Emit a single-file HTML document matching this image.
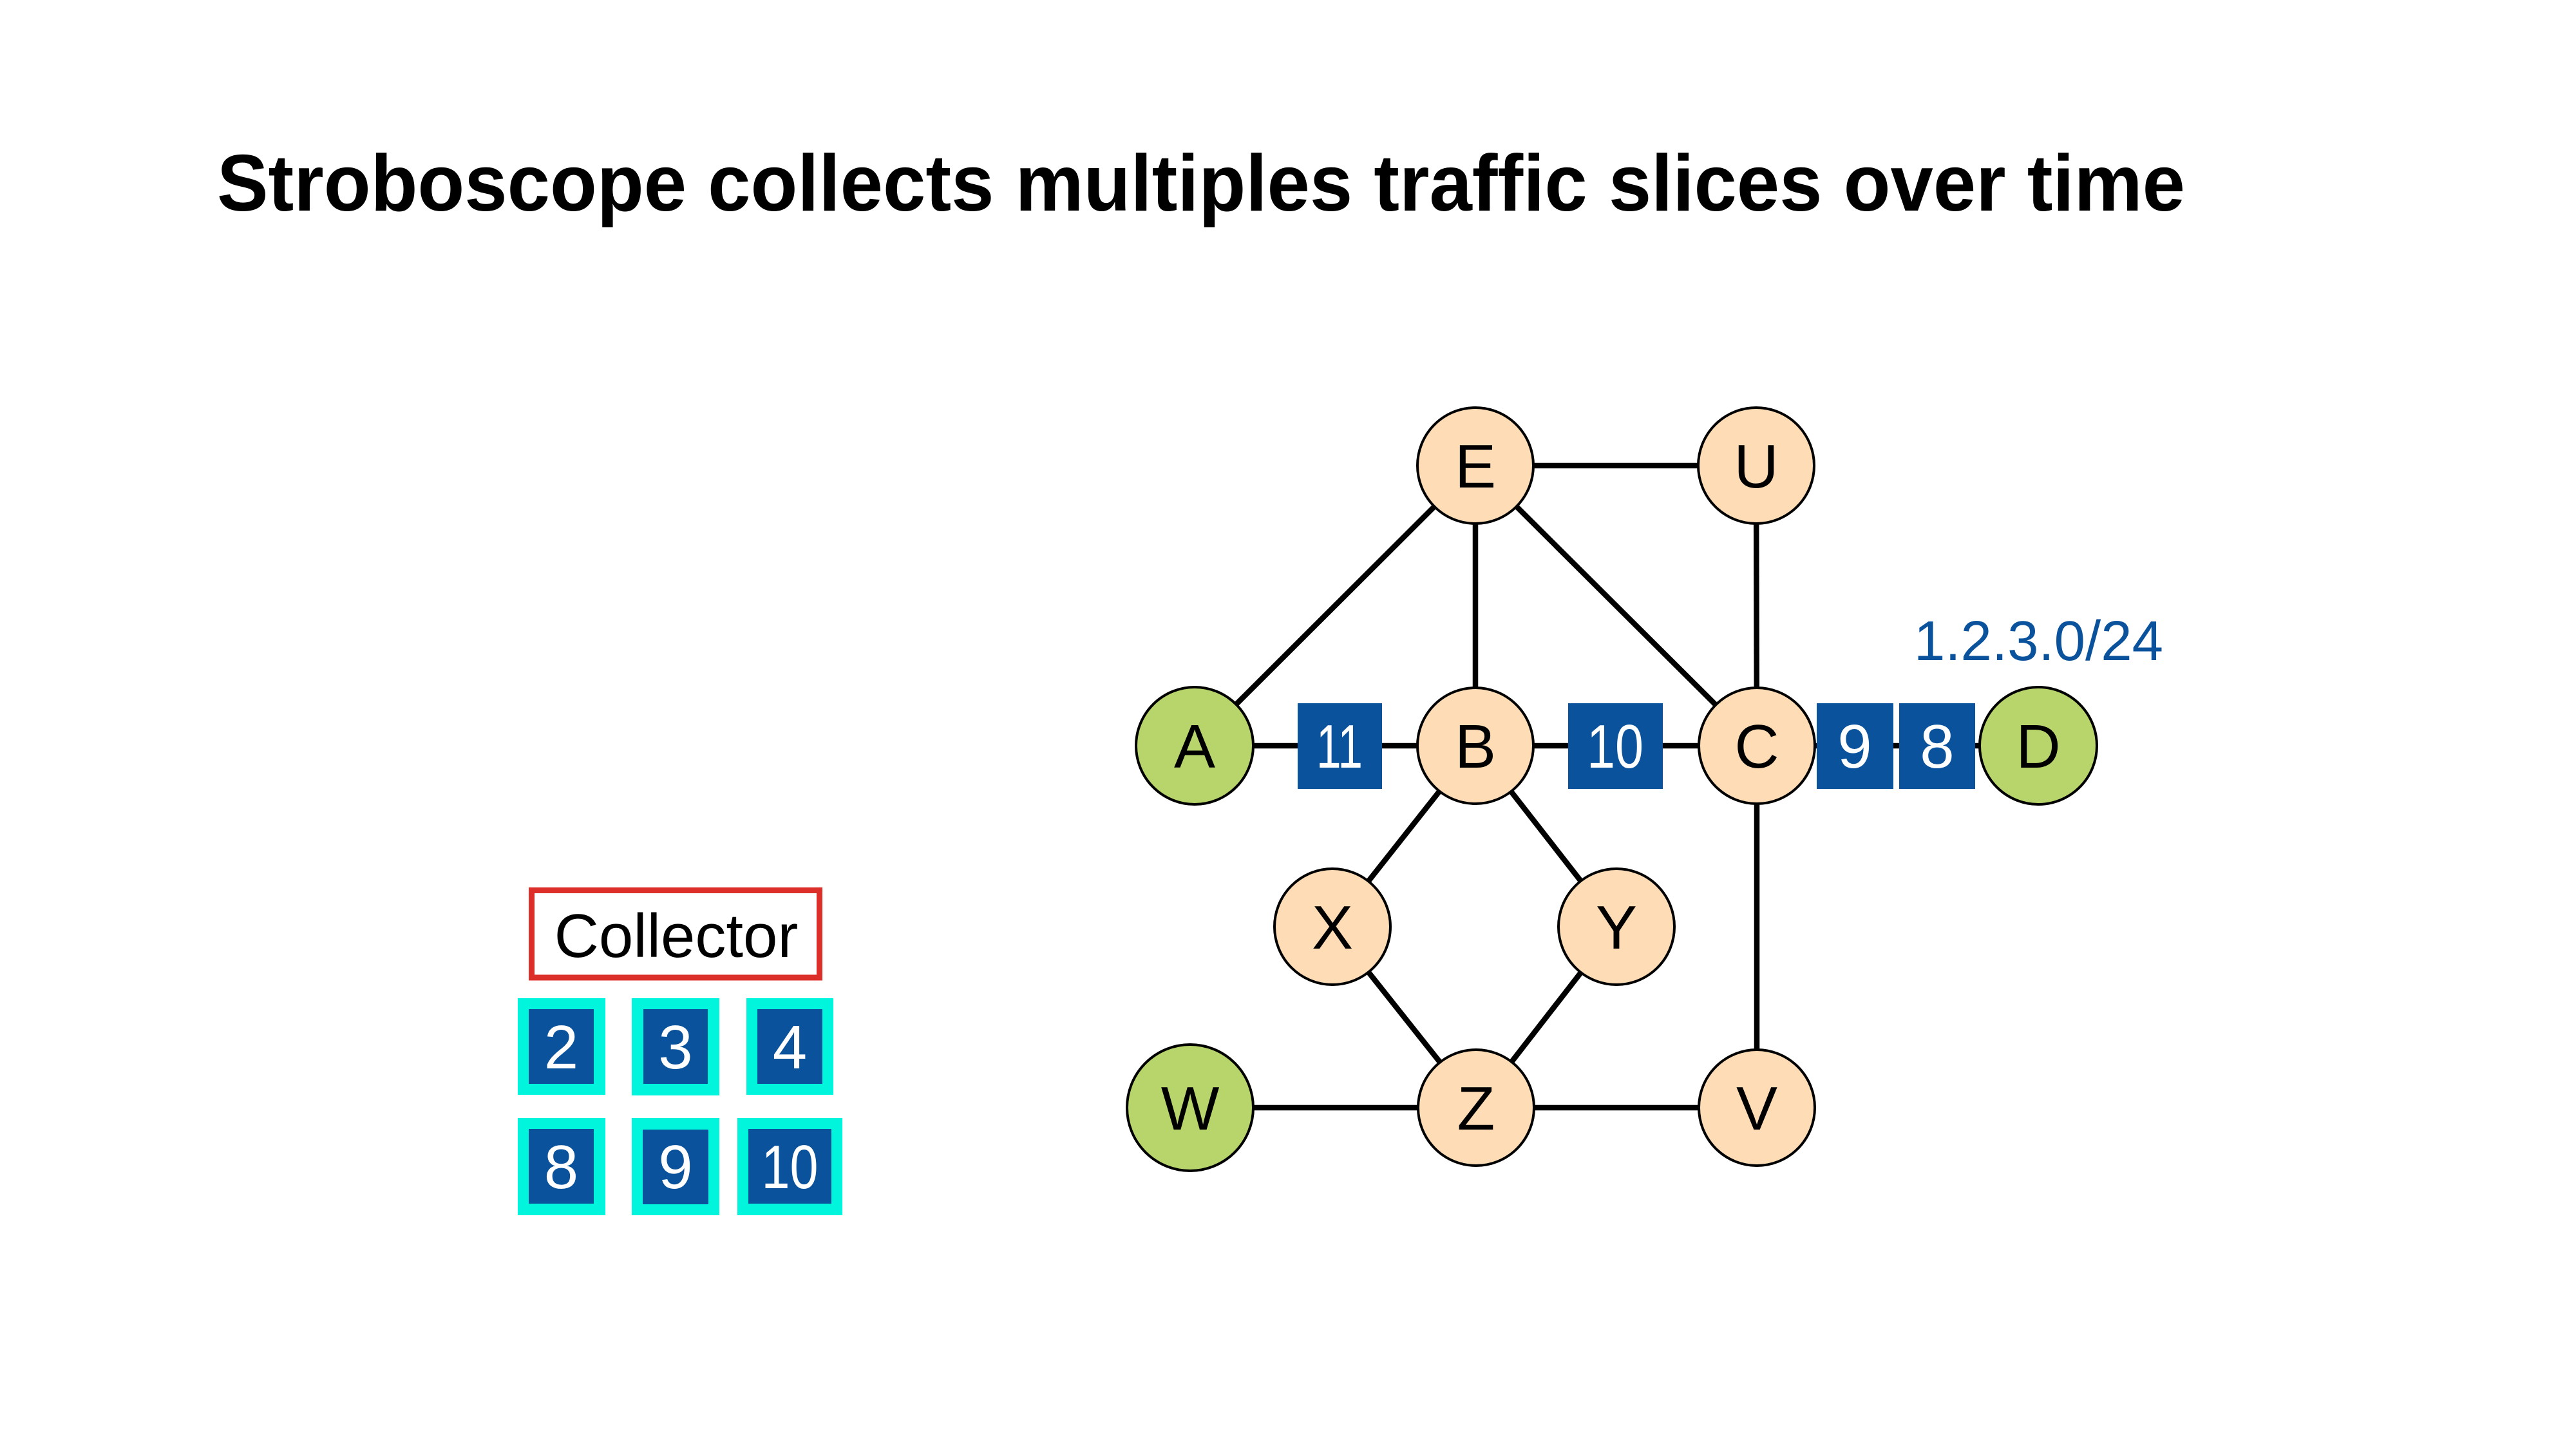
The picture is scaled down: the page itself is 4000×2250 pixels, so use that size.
<!DOCTYPE html>
<html>
<head>
<meta charset="utf-8">
<style>
  html, body { margin: 0; padding: 0; background: #ffffff; }
  svg { display: block; }
  text { font-family: "Liberation Sans", Arial, sans-serif; }
</style>
</head>
<body>
<svg xmlns="http://www.w3.org/2000/svg" width="4000" height="2250" viewBox="0 0 4000 2250">
  <rect x="0" y="0" width="4000" height="2250" fill="#ffffff"/>

  <!-- Title -->
  <text x="337" y="327" font-size="124" font-weight="bold" fill="#000000" textLength="3056" lengthAdjust="spacingAndGlyphs">Stroboscope collects multiples traffic slices over time</text>

  <!-- Edges -->
  <g stroke="#000000" stroke-width="8.5" stroke-linecap="butt">
    <line x1="2291" y1="723" x2="2727" y2="723"/>
    <line x1="2291" y1="723" x2="1855" y2="1158"/>
    <line x1="2291" y1="723" x2="2291" y2="1158"/>
    <line x1="2291" y1="723" x2="2728" y2="1158"/>
    <line x1="2727" y1="723" x2="2728" y2="1158"/>
    <line x1="1855" y1="1158" x2="3165" y2="1158"/>
    <line x1="2291" y1="1158" x2="2069" y2="1439"/>
    <line x1="2291" y1="1158" x2="2510" y2="1439"/>
    <line x1="2069" y1="1439" x2="2292" y2="1720"/>
    <line x1="2510" y1="1439" x2="2292" y2="1720"/>
    <line x1="1848" y1="1720" x2="2728" y2="1720"/>
    <line x1="2728" y1="1158" x2="2728" y2="1720"/>
  </g>

  <!-- Packet boxes on path -->
  <g fill="#0a529b">
    <rect x="2015" y="1092" width="131" height="133"/>
    <rect x="2435" y="1092" width="147" height="133"/>
    <rect x="2821" y="1092" width="119" height="133"/>
    <rect x="2949" y="1092" width="118" height="133"/>
  </g>
  <g fill="#ffffff" font-size="96" text-anchor="middle">
    <text x="2080" y="1192" textLength="72" lengthAdjust="spacingAndGlyphs">11</text>
    <text x="2508" y="1192" textLength="88" lengthAdjust="spacingAndGlyphs">10</text>
    <text x="2880" y="1192">9</text>
    <text x="3008" y="1192">8</text>
  </g>

  <!-- Nodes -->
  <g stroke="#000000" stroke-width="4">
    <circle cx="2291" cy="723" r="90" fill="#fddcb6"/>
    <circle cx="2727" cy="723" r="90" fill="#fddcb6"/>
    <circle cx="1855" cy="1158" r="91" fill="#b8d56b"/>
    <circle cx="2291" cy="1158" r="90" fill="#fddcb6"/>
    <circle cx="2728" cy="1158" r="90" fill="#fddcb6"/>
    <circle cx="3165" cy="1158" r="91" fill="#b8d56b"/>
    <circle cx="2069" cy="1439" r="90" fill="#fddcb6"/>
    <circle cx="2510" cy="1439" r="90" fill="#fddcb6"/>
    <circle cx="1848" cy="1720" r="98" fill="#b8d56b"/>
    <circle cx="2292" cy="1720" r="90" fill="#fddcb6"/>
    <circle cx="2728" cy="1720" r="90" fill="#fddcb6"/>
  </g>
  <g fill="#000000" font-size="96" text-anchor="middle">
    <text x="2291" y="757">E</text>
    <text x="2727" y="757">U</text>
    <text x="1855" y="1192">A</text>
    <text x="2291" y="1192">B</text>
    <text x="2728" y="1192">C</text>
    <text x="3165" y="1192">D</text>
    <text x="2069" y="1473">X</text>
    <text x="2510" y="1473">Y</text>
    <text x="1848" y="1754">W</text>
    <text x="2292" y="1754">Z</text>
    <text x="2728" y="1754">V</text>
  </g>

  <!-- Prefix label -->
  <text x="2972" y="1025" font-size="87" fill="#0a529b">1.2.3.0/24</text>

  <!-- Collector -->
  <rect x="825.5" y="1382.5" width="447" height="135.5" fill="#ffffff" stroke="#dc2f29" stroke-width="9"/>
  <text x="1050" y="1486" font-size="96" fill="#000000" text-anchor="middle">Collector</text>

  <!-- Collected slices -->
  <g fill="#00f5dc">
    <rect x="804" y="1550" width="136" height="150"/>
    <rect x="981" y="1550" width="136" height="151"/>
    <rect x="1159" y="1550" width="135" height="150"/>
    <rect x="804" y="1736" width="136" height="151"/>
    <rect x="981" y="1736" width="136" height="151"/>
    <rect x="1145" y="1736" width="163" height="151"/>
  </g>
  <g fill="#0a529b">
    <rect x="821" y="1567" width="101" height="116"/>
    <rect x="999" y="1567" width="100" height="116"/>
    <rect x="1176" y="1567" width="101" height="116"/>
    <rect x="821" y="1753" width="101" height="116"/>
    <rect x="998" y="1754" width="102" height="116"/>
    <rect x="1162" y="1753" width="129" height="116"/>
  </g>
  <g fill="#ffffff" font-size="96" text-anchor="middle">
    <text x="871.5" y="1659">2</text>
    <text x="1049" y="1659">3</text>
    <text x="1226.5" y="1659">4</text>
    <text x="871.5" y="1845">8</text>
    <text x="1049" y="1845">9</text>
    <text x="1226.5" y="1845" textLength="88" lengthAdjust="spacingAndGlyphs">10</text>
  </g>
</svg>
</body>
</html>
